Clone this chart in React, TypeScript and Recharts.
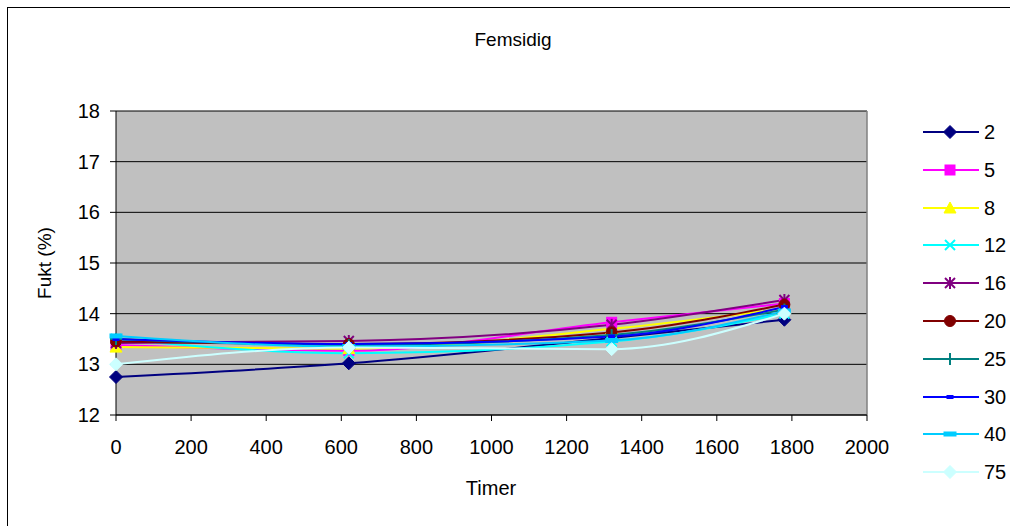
import React from 'react';
import { LineChart, Line, XAxis, YAxis, CartesianGrid, ReferenceLine } from 'recharts';

const hours = [0, 620, 1320, 1780];
const s2 = [12.75, 13.02, 13.52, 13.88];
const s5 = [13.38, 13.27, 13.83, 14.2];
const s8 = [13.34, 13.31, 13.7, 14.1];
const s12 = [13.5, 13.22, 13.45, 14.0];
const s16 = [13.42, 13.46, 13.78, 14.27];
const s20 = [13.45, 13.4, 13.63, 14.18];
const s25 = [13.5, 13.38, 13.58, 14.08];
const s30 = [13.5, 13.4, 13.55, 14.13];
const s40 = [13.56, 13.35, 13.47, 14.05];
const s75 = [13.0, 13.33, 13.3, 14.0];

const seriesNames = ['2', '5', '8', '12', '16', '20', '25', '30', '40', '75'];
const seriesValues = [s2, s5, s8, s12, s16, s20, s25, s30, s40, s75];
const seriesColors = ['#000080', '#FF00FF', '#FFFF00', '#00FFFF', '#800080', '#800000', '#008080', '#0000FF', '#00CCFF', '#CCFFFF'];
const seriesMarkers = ['diamond', 'square', 'triangle', 'x', 'star', 'circle', 'plus', 'dash', 'wdash', 'diamond'];

const xTicks = [0, 200, 400, 600, 800, 1000, 1200, 1400, 1600, 1800, 2000];
const yTicks = [12, 13, 14, 15, 16, 17, 18];

const data = hours.map((h, i) => {
  const row: any = { h };
  seriesNames.forEach((n, k) => {
    row['s' + n] = seriesValues[k][i];
  });
  return row;
});

const FONT = '"Liberation Sans", Arial, sans-serif';

function Marker({ kind, cx, cy, color }: { kind: string; cx: number; cy: number; color: string }) {
  switch (kind) {
    case 'diamond':
      return <polygon points={`${cx},${cy - 6.5} ${cx + 6.5},${cy} ${cx},${cy + 6.5} ${cx - 6.5},${cy}`} fill={color} stroke={color} strokeWidth={1} />;
    case 'square':
      return <rect x={cx - 5} y={cy - 5} width={10} height={10} fill={color} stroke={color} />;
    case 'triangle':
      return <polygon points={`${cx},${cy - 6} ${cx + 6},${cy + 5} ${cx - 6},${cy + 5}`} fill={color} stroke={color} />;
    case 'x':
      return (
        <g stroke={color} strokeWidth={2}>
          <line x1={cx - 5} y1={cy - 5} x2={cx + 5} y2={cy + 5} />
          <line x1={cx - 5} y1={cy + 5} x2={cx + 5} y2={cy - 5} />
        </g>
      );
    case 'star':
      return (
        <g stroke={color} strokeWidth={2}>
          <line x1={cx - 5} y1={cy - 5} x2={cx + 5} y2={cy + 5} />
          <line x1={cx - 5} y1={cy + 5} x2={cx + 5} y2={cy - 5} />
          <line x1={cx} y1={cy - 6} x2={cx} y2={cy + 6} />
        </g>
      );
    case 'circle':
      return <circle cx={cx} cy={cy} r={5.5} fill={color} stroke={color} />;
    case 'plus':
      return (
        <g stroke={color} strokeWidth={2}>
          <line x1={cx - 6} y1={cy} x2={cx + 6} y2={cy} />
          <line x1={cx} y1={cy - 6} x2={cx} y2={cy + 6} />
        </g>
      );
    case 'dash':
      return <rect x={cx - 3.5} y={cy - 2} width={7} height={4} fill={color} />;
    case 'wdash':
      return <rect x={cx - 6.5} y={cy - 2.5} width={13} height={5} fill={color} />;
    default:
      return null;
  }
}

function LegendBox() {
  return (
    <div style={{ position: 'absolute', left: 918, top: 121, width: 92, height: 380 }}>
      {seriesNames.map((n, i) => (
        <div key={n} style={{ position: 'absolute', left: 0, top: i * 37.8, height: 22, display: 'flex', alignItems: 'center' }}>
          <svg width={62} height={22} style={{ display: 'block' }}>
            <line x1={5} y1={11} x2={61} y2={11} stroke={seriesColors[i]} strokeWidth={2} />
            <Marker kind={seriesMarkers[i]} cx={32} cy={11} color={seriesColors[i]} />
          </svg>
          <span style={{ fontFamily: FONT, fontSize: 20, color: '#000', marginLeft: 4, lineHeight: '22px' }}>{n}</span>
        </div>
      ))}
    </div>
  );
}

export default function App() {
  return (
    <div style={{ position: 'absolute', left: 0, top: 0, width: 1010, height: 526, background: '#fff', overflow: 'hidden' }}>
      <div style={{ position: 'absolute', left: 7, top: 7, width: 1020, height: 540, border: '1px solid #000', boxSizing: 'border-box' }} />
      <div style={{ position: 'absolute', left: 0, width: 1010, top: 28, textAlign: 'center', fontFamily: FONT, fontSize: 19, lineHeight: '24px', paddingLeft: 16, boxSizing: 'border-box' }}>
        Femsidig
      </div>
      <div style={{ position: 'absolute', left: 491 - 100, width: 200, top: 476, textAlign: 'center', fontFamily: FONT, fontSize: 20, lineHeight: '24px' }}>
        Timer
      </div>
      <div style={{ position: 'absolute', left: 45 - 100, top: 263 - 12, width: 200, height: 24, textAlign: 'center', fontFamily: FONT, fontSize: 19, lineHeight: '24px', transform: 'rotate(-90deg)' }}>
        Fukt (%)
      </div>
      <div style={{ position: 'absolute', left: 0, top: 0 }}>
        <LineChart width={1010} height={526} data={data} margin={{ top: 111, left: 56, right: 143, bottom: 81 }}>
          <CartesianGrid horizontal={true} vertical={false} stroke="#000" strokeWidth={1} fill="#C0C0C0" fillOpacity={1} />
          <XAxis
            dataKey="h"
            type="number"
            domain={[0, 2000]}
            ticks={xTicks}
            interval={0}
            height={30}
            axisLine={{ stroke: '#000', strokeWidth: 1 }}
            tickLine={{ stroke: '#000' }}
            tickSize={6}
            tickMargin={19}
            tick={{ fill: '#000', fontSize: 20, fontFamily: FONT }}
          />
          <YAxis
            type="number"
            domain={[12, 18]}
            ticks={yTicks}
            interval={0}
            width={60}
            axisLine={{ stroke: '#000', strokeWidth: 1 }}
            tickLine={{ stroke: '#000' }}
            tickSize={6}
            tickMargin={10}
            tick={{ fill: '#000', fontSize: 20, fontFamily: FONT }}
          />
          <ReferenceLine x={2000} stroke="#808080" strokeWidth={1.5} />
          {seriesNames.map((n, i) => (
            <Line
              key={n}
              dataKey={'s' + n}
              name={n}
              type="monotone"
              stroke={seriesColors[i]}
              strokeWidth={2}
              isAnimationActive={false}
              dot={(p: any) => (
                <g key={`d${n}-${p.index}`}>
                  <Marker kind={seriesMarkers[i]} cx={p.cx} cy={p.cy} color={seriesColors[i]} />
                </g>
              )}
              activeDot={false}
            />
          ))}
        </LineChart>
      </div>
      <LegendBox />
    </div>
  );
}
